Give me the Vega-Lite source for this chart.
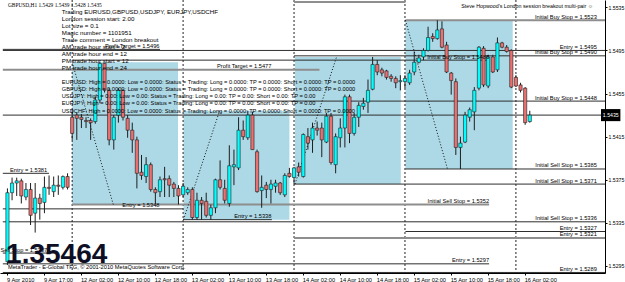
{
  "$schema": "https://vega.github.io/schema/vega-lite/v6.json",
  "width": 605,
  "height": 273,
  "autosize": "none",
  "padding": {"left": 0, "top": 0, "right": 20, "bottom": 9},
  "background": "#ffffff",
  "config": {
    "view": {"stroke": null},
    "font": "Liberation Sans",
    "text": {"font": "Liberation Sans", "fontSize": 5.7, "color": "#000000"},
    "axis": {"grid": false, "domainColor": "#000000", "tickColor": "#000000", "labelColor": "#000000", "labelFont": "Liberation Sans", "title": null}
  },
  "datasets": {
    "candles": [
      {"i":0,"o":1.5299,"h":1.5367,"l":1.5296,"c":1.5363},
      {"i":1,"o":1.5363,"h":1.5377,"l":1.5356,"c":1.5372},
      {"i":2,"o":1.5372,"h":1.5377,"l":1.5360,"c":1.5374},
      {"i":3,"o":1.5374,"h":1.5376,"l":1.5353,"c":1.5360},
      {"i":4,"o":1.5359,"h":1.5372,"l":1.5356,"c":1.5366},
      {"i":5,"o":1.5366,"h":1.5372,"l":1.5333,"c":1.5342},
      {"i":6,"o":1.5344,"h":1.5372,"l":1.5326,"c":1.5358},
      {"i":7,"o":1.5358,"h":1.5362,"l":1.5338,"c":1.5353},
      {"i":8,"o":1.5354,"h":1.5378,"l":1.5344,"c":1.5368},
      {"i":9,"o":1.5368,"h":1.5379,"l":1.5361,"c":1.5367},
      {"i":10,"o":1.5364,"h":1.5378,"l":1.5359,"c":1.5370},
      {"i":11,"o":1.5370,"h":1.5379,"l":1.5361,"c":1.5369},
      {"i":12,"o":1.5368,"h":1.5379,"l":1.5366,"c":1.5378},
      {"i":13,"o":1.5378,"h":1.5381,"l":1.5366,"c":1.5368},
      {"i":14,"o":1.5433,"h":1.5440,"l":1.5412,"c":1.5418},
      {"i":15,"o":1.5435,"h":1.5437,"l":1.5412,"c":1.5432},
      {"i":16,"o":1.5433,"h":1.5436,"l":1.5423,"c":1.5431},
      {"i":17,"o":1.5430,"h":1.5433,"l":1.5423,"c":1.5429},
      {"i":18,"o":1.5430,"h":1.5432,"l":1.5412,"c":1.5428},
      {"i":19,"o":1.5429,"h":1.5452,"l":1.5427,"c":1.5449},
      {"i":20,"o":1.5449,"h":1.5484,"l":1.5446,"c":1.5483},
      {"i":21,"o":1.5483,"h":1.5483,"l":1.5456,"c":1.5458},
      {"i":22,"o":1.5458,"h":1.5460,"l":1.5407,"c":1.5412},
      {"i":23,"o":1.5412,"h":1.5435,"l":1.5403,"c":1.5433},
      {"i":24,"o":1.5435,"h":1.5460,"l":1.5428,"c":1.5458},
      {"i":25,"o":1.5458,"h":1.5459,"l":1.5430,"c":1.5433},
      {"i":26,"o":1.5432,"h":1.5435,"l":1.5414,"c":1.5421},
      {"i":27,"o":1.5421,"h":1.5428,"l":1.5400,"c":1.5412},
      {"i":28,"o":1.5412,"h":1.5415,"l":1.5367,"c":1.5381},
      {"i":29,"o":1.5382,"h":1.5398,"l":1.5375,"c":1.5379},
      {"i":30,"o":1.5378,"h":1.5396,"l":1.5372,"c":1.5389},
      {"i":31,"o":1.5389,"h":1.5391,"l":1.5364,"c":1.5366},
      {"i":32,"o":1.5366,"h":1.5368,"l":1.5353,"c":1.5363},
      {"i":33,"o":1.5364,"h":1.5378,"l":1.5359,"c":1.5375},
      {"i":34,"o":1.5376,"h":1.5387,"l":1.5359,"c":1.5375},
      {"i":35,"o":1.5376,"h":1.5379,"l":1.5359,"c":1.5370},
      {"i":36,"o":1.5371,"h":1.5373,"l":1.5359,"c":1.5367},
      {"i":37,"o":1.5367,"h":1.5370,"l":1.5352,"c":1.5360},
      {"i":38,"o":1.5361,"h":1.5372,"l":1.5359,"c":1.5369},
      {"i":39,"o":1.5363,"h":1.5368,"l":1.5361,"c":1.5366},
      {"i":40,"o":1.5366,"h":1.5368,"l":1.5338,"c":1.5340},
      {"i":41,"o":1.5340,"h":1.5363,"l":1.5338,"c":1.5356},
      {"i":42,"o":1.5356,"h":1.5359,"l":1.5338,"c":1.5353},
      {"i":43,"o":1.5355,"h":1.5363,"l":1.5340,"c":1.5342},
      {"i":44,"o":1.5342,"h":1.5352,"l":1.5338,"c":1.5349},
      {"i":45,"o":1.5349,"h":1.5376,"l":1.5344,"c":1.5375},
      {"i":46,"o":1.5375,"h":1.5393,"l":1.5366,"c":1.5368},
      {"i":47,"o":1.5367,"h":1.5375,"l":1.5353,"c":1.5356},
      {"i":48,"o":1.5353,"h":1.5407,"l":1.5350,"c":1.5388},
      {"i":49,"o":1.5387,"h":1.5403,"l":1.5370,"c":1.5389},
      {"i":50,"o":1.5386,"h":1.5433,"l":1.5384,"c":1.5421},
      {"i":51,"o":1.5421,"h":1.5430,"l":1.5412,"c":1.5415},
      {"i":52,"o":1.5414,"h":1.5439,"l":1.5412,"c":1.5435},
      {"i":53,"o":1.5435,"h":1.5438,"l":1.5403,"c":1.5403},
      {"i":54,"o":1.5401,"h":1.5403,"l":1.5363,"c":1.5364},
      {"i":55,"o":1.5365,"h":1.5379,"l":1.5349,"c":1.5368},
      {"i":56,"o":1.5370,"h":1.5373,"l":1.5358,"c":1.5366},
      {"i":57,"o":1.5366,"h":1.5375,"l":1.5353,"c":1.5371},
      {"i":58,"o":1.5369,"h":1.5375,"l":1.5363,"c":1.5372},
      {"i":59,"o":1.5372,"h":1.5373,"l":1.5361,"c":1.5363},
      {"i":60,"o":1.5361,"h":1.5381,"l":1.5359,"c":1.5379},
      {"i":61,"o":1.5381,"h":1.5386,"l":1.5377,"c":1.5378},
      {"i":62,"o":1.5377,"h":1.5387,"l":1.5371,"c":1.5386},
      {"i":63,"o":1.5387,"h":1.5391,"l":1.5378,"c":1.5382},
      {"i":64,"o":1.5378,"h":1.5418,"l":1.5377,"c":1.5417},
      {"i":65,"o":1.5415,"h":1.5423,"l":1.5403,"c":1.5409},
      {"i":66,"o":1.5412,"h":1.5428,"l":1.5400,"c":1.5423},
      {"i":67,"o":1.5423,"h":1.5429,"l":1.5416,"c":1.5421},
      {"i":68,"o":1.5423,"h":1.5428,"l":1.5396,"c":1.5412},
      {"i":69,"o":1.5410,"h":1.5437,"l":1.5409,"c":1.5434},
      {"i":70,"o":1.5434,"h":1.5437,"l":1.5389,"c":1.5391},
      {"i":71,"o":1.5389,"h":1.5418,"l":1.5381,"c":1.5415},
      {"i":72,"o":1.5414,"h":1.5432,"l":1.5405,"c":1.5423},
      {"i":73,"o":1.5423,"h":1.5454,"l":1.5405,"c":1.5452},
      {"i":74,"o":1.5452,"h":1.5454,"l":1.5409,"c":1.5418},
      {"i":75,"o":1.5418,"h":1.5437,"l":1.5416,"c":1.5433},
      {"i":76,"o":1.5433,"h":1.5447,"l":1.5424,"c":1.5444},
      {"i":77,"o":1.5443,"h":1.5451,"l":1.5440,"c":1.5446},
      {"i":78,"o":1.5447,"h":1.5468,"l":1.5437,"c":1.5458},
      {"i":79,"o":1.5459,"h":1.5489,"l":1.5458,"c":1.5482},
      {"i":80,"o":1.5482,"h":1.5486,"l":1.5472,"c":1.5475},
      {"i":81,"o":1.5477,"h":1.5479,"l":1.5471,"c":1.5474},
      {"i":82,"o":1.5476,"h":1.5477,"l":1.5468,"c":1.5470},
      {"i":83,"o":1.5471,"h":1.5473,"l":1.5466,"c":1.5469},
      {"i":84,"o":1.5469,"h":1.5471,"l":1.5460,"c":1.5465},
      {"i":85,"o":1.5466,"h":1.5472,"l":1.5458,"c":1.5467},
      {"i":86,"o":1.5466,"h":1.5472,"l":1.5460,"c":1.5469},
      {"i":87,"o":1.5465,"h":1.5477,"l":1.5463,"c":1.5474},
      {"i":88,"o":1.5475,"h":1.5494,"l":1.5472,"c":1.5484},
      {"i":89,"o":1.5484,"h":1.5491,"l":1.5483,"c":1.5488},
      {"i":90,"o":1.5489,"h":1.5497,"l":1.5486,"c":1.5495},
      {"i":91,"o":1.5495,"h":1.5517,"l":1.5494,"c":1.5507},
      {"i":92,"o":1.5508,"h":1.5511,"l":1.5503,"c":1.5506},
      {"i":93,"o":1.5506,"h":1.5523,"l":1.5505,"c":1.5514},
      {"i":94,"o":1.5515,"h":1.5522,"l":1.5497,"c":1.5498},
      {"i":95,"o":1.5500,"h":1.5503,"l":1.5474,"c":1.5475},
      {"i":96,"o":1.5474,"h":1.5475,"l":1.5454,"c":1.5467},
      {"i":97,"o":1.5466,"h":1.5469,"l":1.5398,"c":1.5405},
      {"i":98,"o":1.5405,"h":1.5415,"l":1.5385,"c":1.5409},
      {"i":99,"o":1.5410,"h":1.5438,"l":1.5409,"c":1.5435},
      {"i":100,"o":1.5433,"h":1.5442,"l":1.5429,"c":1.5440},
      {"i":101,"o":1.5438,"h":1.5461,"l":1.5421,"c":1.5458},
      {"i":102,"o":1.5460,"h":1.5499,"l":1.5458,"c":1.5498},
      {"i":103,"o":1.5497,"h":1.5499,"l":1.5461,"c":1.5463},
      {"i":104,"o":1.5462,"h":1.5491,"l":1.5460,"c":1.5489},
      {"i":105,"o":1.5489,"h":1.5491,"l":1.5474,"c":1.5475},
      {"i":106,"o":1.5477,"h":1.5507,"l":1.5475,"c":1.5502},
      {"i":107,"o":1.5502,"h":1.5503,"l":1.5497,"c":1.5498},
      {"i":108,"o":1.5498,"h":1.5500,"l":1.5493,"c":1.5494},
      {"i":109,"o":1.5495,"h":1.5496,"l":1.5460,"c":1.5461},
      {"i":110,"o":1.5470,"h":1.5472,"l":1.5461,"c":1.5462},
      {"i":111,"o":1.5463,"h":1.5465,"l":1.5456,"c":1.5458},
      {"i":112,"o":1.5460,"h":1.5461,"l":1.5426,"c":1.5428},
      {"i":113,"o":1.5429,"h":1.5439,"l":1.5428,"c":1.5435}
    ],
    "boxes": [
      {"x0":14,"x1":36.9,"lo":1.5352,"hi":1.5484},
      {"x0":38.1,"x1":61,"lo":1.5338,"hi":1.5439},
      {"x0":62.2,"x1":85.1,"lo":1.5371,"hi":1.5489},
      {"x0":86.1,"x1":109.3,"lo":1.5385,"hi":1.5523}
    ],
    "days": [{"i":14},{"i":38},{"i":62},{"i":86},{"i":110}],
    "diags": [
      {"x0":14,"p0":1.5484,"x1":22.9,"p1":1.5352},
      {"x0":38.1,"p0":1.5338,"x1":45.9,"p1":1.5439},
      {"x0":62.2,"p0":1.5371,"x1":71.2,"p1":1.5489},
      {"x0":86.1,"p0":1.5523,"x1":95.2,"p1":1.5385}
    ],
    "levels": [
      {"p":1.5540,"x0":62,"x1":86.1,"lx":86.1,"label":"","k":"box"},
      {"p":1.5523,"x0":86.1,"x1":130,"lx":127.5,"label":"Initial Buy Stop = 1.5523","k":"box"},
      {"p":1.5495,"x0":-1,"x1":130,"lx":127.5,"label":"Entry = 1.5495","k":"order"},
      {"p":1.5490,"x0":62,"x1":130,"lx":127.5,"label":"Initial Buy Stop = 1.5490","k":"order"},
      {"p":1.5496,"x0":-1,"x1":33,"lx":32.9,"label":"Profit Target = 1.5496","k":"order"},
      {"p":1.5486,"x0":14,"x1":104.2,"lx":104.2,"label":"Initial Buy Stop = 1.5486","k":"order"},
      {"p":1.5477,"x0":-1,"x1":67.5,"lx":57.1,"label":"Profit Target = 1.5477","k":"box"},
      {"p":1.5448,"x0":38,"x1":130,"lx":127.5,"label":"Initial Buy Stop = 1.5448","k":"order"},
      {"p":1.5435,"x0":-1,"x1":130,"lx":0,"label":"","k":"order"},
      {"p":1.5385,"x0":86.1,"x1":130,"lx":127.5,"label":"Initial Sell Stop = 1.5385","k":"order"},
      {"p":1.5381,"x0":-1,"x1":9,"lx":8.6,"label":"Entry = 1.5381","k":"order"},
      {"p":1.5371,"x0":62,"x1":130,"lx":127.5,"label":"Initial Sell Stop = 1.5371","k":"order"},
      {"p":1.5352,"x0":14,"x1":104.2,"lx":104.2,"label":"Initial Sell Stop = 1.5352","k":"box"},
      {"p":1.5348,"x0":-1,"x1":38,"lx":32.9,"label":"Entry = 1.5348","k":"order"},
      {"p":1.5338,"x0":38,"x1":57.2,"lx":57.1,"label":"Entry = 1.5338","k":"order"},
      {"p":1.5336,"x0":-1,"x1":130,"lx":127.5,"label":"Initial Sell Stop = 1.5336","k":"order"},
      {"p":1.5327,"x0":86.1,"x1":130,"lx":127.5,"label":"Entry = 1.5327","k":"order"},
      {"p":1.5321,"x0":62,"x1":130,"lx":127.5,"label":"Entry = 1.5321","k":"box"},
      {"p":1.5307,"x0":-1,"x1":10.5,"lx":8.6,"label":"Initial Sell Stop = 1.5307","k":"order"},
      {"p":1.5297,"x0":-1,"x1":104.2,"lx":104.2,"label":"Entry = 1.5297","k":"order"},
      {"p":1.5289,"x0":-1,"x1":130,"lx":127.5,"label":"Entry = 1.5289","k":"order"}
    ],
    "header": [
      {"x":0.1,"p":1.55372,"t":"GBPUSD,H1  1.5429 1.5439 1.5428 1.5435"}
    ],
    "copyright": [
      {"x":0.1,"p":1.52941,"t":"MetaTrader - E-Global TFG, © 2001-2010 MetaQuotes Software Corp."}
    ],
    "comment": [
      {"x":11.75,"p":1.55304,"t":"Trading EURUSD,GBPUSD,USDJPY, EURJPY,USDCHF"},
      {"x":11.75,"p":1.55239,"t":"London session start: 2.00"},
      {"x":11.75,"p":1.55177,"t":"Lot size = 0.1"},
      {"x":11.75,"p":1.55112,"t":"Magic number = 1101951"},
      {"x":11.75,"p":1.55047,"t":"Trade comment = London breakout"},
      {"x":11.75,"p":1.54982,"t":"AM trade hour start = 2"},
      {"x":11.75,"p":1.54917,"t":"AM trade hour end = 12"},
      {"x":11.75,"p":1.54852,"t":"PM trade hour start = 12"},
      {"x":11.75,"p":1.54787,"t":"PM trade hour end = 24"}
    ],
    "pairs": [
      {"x":11.75,"p":1.54660,"t":"EURUSD: High = 0.0000: Low = 0.0000: Status = Trading: Long = 0.0000: TP = 0.0000: Short = 0.0000: TP = 0.0000"},
      {"x":11.75,"p":1.54592,"t":"GBPUSD: High = 0.0000: Low = 0.0000: Status = Trading: Long = 0.0000: TP = 0.0000: Short = 0.0000: TP = 0.0000"},
      {"x":11.75,"p":1.54523,"t":"USDJPY: High = 0.00: Low = 0.00: Status = Trading: Long = 0.00: TP = 0.00: Short = 0.00: TP = 0.00"},
      {"x":11.75,"p":1.54458,"t":"EURJPY: High = 0.00: Low = 0.00: Status = Trading: Long = 0.00: TP = 0.00: Short = 0.00: TP = 0.00"},
      {"x":11.75,"p":1.54391,"t":"USDCHF: High = 0.0000: Low = 0.0000: Status = Trading: Long = 0.0000: TP = 0.0000: Short = 0.0000: TP = 0.0000"}
    ],
    "title": [{"x":126.7,"p":1.55362,"t":"Steve Hopwood's London session breakout multi-pair ☺"}],
    "big": [{"x":-0.3,"p":1.52978,"t":"1.35464"}],
    "bid": [{"x0":128.4,"x1":132.6,"xt":128.8,"p":1.5435,"lo":1.54294,"hi":1.54406,"t":"1.5435"}]
  },
  "layer": [
    {
      "data": {"name": "boxes"},
      "mark": {"type": "rect", "color": "#ADD8E6"},
      "encoding": {
        "x": {"field": "x0", "type": "quantitative",
          "scale": {"domain": [-0.53, 128.19], "nice": false, "zero": false},
          "axis": {"orient": "bottom", "title": null, "values": [0,8,16,24,32,40,48,56,64,72,80,88,96,104,112],
            "labelExpr": "['9 Apr 2010','9 Apr 17:00','12 Apr 02:00','12 Apr 10:00','12 Apr 18:00','13 Apr 02:00','13 Apr 10:00','13 Apr 18:00','14 Apr 02:00','14 Apr 10:00','14 Apr 18:00','15 Apr 02:00','15 Apr 10:00','15 Apr 18:00','16 Apr 02:00'][round(datum.value/8)]",
            "labelAlign": "left", "labelBaseline": "top", "labelFontSize": 5.7, "tickSize": 2, "labelPadding": 1, "labelOffset": -1,
            "labelOverlap": false, "labelBound": false, "labelFlush": false, "grid": false}},
        "x2": {"field": "x1"},
        "y": {"field": "lo", "type": "quantitative",
          "scale": {"domain": [1.52885, 1.55418], "nice": false, "zero": false},
          "axis": {"orient": "right", "title": null, "values": [1.5295,1.5315,1.5335,1.5355,1.5375,1.5395,1.5415,1.5435,1.5455,1.5475,1.5495,1.5515,1.5535],
            "labelExpr": "abs(datum.value-1.5435)<0.00001 ? '' : format(datum.value, '.4f')",
            "labelFontSize": 5.2, "tickSize": 2, "labelPadding": 1, "labelOverlap": false, "labelBound": false, "labelFlush": false, "grid": false}},
        "y2": {"field": "hi"}
      }
    },
    {
      "data": {"name": "days"},
      "mark": {"type": "rule", "color": "#222222", "strokeWidth": 1, "strokeDash": [2, 2]},
      "encoding": {"x": {"field": "i", "type": "quantitative"}}
    },
    {
      "data": {"name": "levels"},
      "mark": {"type": "rule", "clip": true},
      "encoding": {
        "x": {"field": "x0", "type": "quantitative"},
        "x2": {"field": "x1"},
        "y": {"field": "p", "type": "quantitative"},
        "color": {"field": "k", "type": "nominal", "scale": {"domain": ["order", "box"], "range": ["#2e2e2e", "#8e8e8e"]}, "legend": null},
        "strokeWidth": {"field": "k", "type": "nominal", "scale": {"domain": ["order", "box"], "range": [1, 2]}, "legend": null}
      }
    },
    {
      "data": {"name": "diags"},
      "mark": {"type": "rule", "color": "#111111", "strokeWidth": 1, "strokeDash": [1, 2]},
      "encoding": {
        "x": {"field": "x0", "type": "quantitative"},
        "x2": {"field": "x1"},
        "y": {"field": "p0", "type": "quantitative"},
        "y2": {"field": "p1"}
      }
    },
    {
      "data": {"name": "candles"},
      "mark": {"type": "rule", "color": "#1e1e1e", "strokeWidth": 1},
      "encoding": {
        "x": {"field": "i", "type": "quantitative"},
        "y": {"field": "l", "type": "quantitative"},
        "y2": {"field": "h"}
      }
    },
    {
      "data": {"name": "candles"},
      "mark": {"type": "bar", "width": 3.2, "stroke": "#1e1e1e", "strokeWidth": 0.6},
      "encoding": {
        "x": {"field": "i", "type": "quantitative"},
        "y": {"field": "o", "type": "quantitative"},
        "y2": {"field": "c"},
        "fill": {"condition": {"test": "datum.c >= datum.o", "value": "#00FFFF"}, "value": "#EC7070"}
      }
    },
    {
      "data": {"name": "levels"},
      "transform": [{"filter": "datum.label != ''"}],
      "mark": {"type": "text", "align": "right", "baseline": "alphabetic", "dy": -1.5, "fontSize": 5.7, "color": "#000000"},
      "encoding": {
        "x": {"field": "lx", "type": "quantitative"},
        "y": {"field": "p", "type": "quantitative"},
        "text": {"field": "label"}
      }
    },
    {
      "data": {"name": "header"},
      "mark": {"type": "text", "align": "left", "baseline": "middle", "fontSize": 5.4, "font": "Liberation Sans Narrow", "color": "#000000"},
      "encoding": {
        "x": {"field": "x", "type": "quantitative"},
        "y": {"field": "p", "type": "quantitative"},
        "text": {"field": "t"}
      }
    },
    {
      "data": {"name": "copyright"},
      "mark": {"type": "text", "align": "left", "baseline": "middle", "fontSize": 5.7, "color": "#000000"},
      "encoding": {
        "x": {"field": "x", "type": "quantitative"},
        "y": {"field": "p", "type": "quantitative"},
        "text": {"field": "t"}
      }
    },
    {
      "data": {"name": "comment"},
      "mark": {"type": "text", "align": "left", "baseline": "middle", "fontSize": 6.2, "color": "#000000"},
      "encoding": {
        "x": {"field": "x", "type": "quantitative"},
        "y": {"field": "p", "type": "quantitative"},
        "text": {"field": "t"}
      }
    },
    {
      "data": {"name": "pairs"},
      "mark": {"type": "text", "align": "left", "baseline": "middle", "fontSize": 5.7, "color": "#000000"},
      "encoding": {
        "x": {"field": "x", "type": "quantitative"},
        "y": {"field": "p", "type": "quantitative"},
        "text": {"field": "t"}
      }
    },
    {
      "data": {"name": "title"},
      "mark": {"type": "text", "align": "right", "baseline": "middle", "fontSize": 5.3, "color": "#000000"},
      "encoding": {
        "x": {"field": "x", "type": "quantitative"},
        "y": {"field": "p", "type": "quantitative"},
        "text": {"field": "t"}
      }
    },
    {
      "data": {"name": "big"},
      "mark": {"type": "text", "align": "left", "baseline": "alphabetic", "fontSize": 28, "fontWeight": "bold", "color": "#0e0e24"},
      "encoding": {
        "x": {"field": "x", "type": "quantitative"},
        "y": {"field": "p", "type": "quantitative"},
        "text": {"field": "t"}
      }
    },
    {
      "data": {"name": "bid"},
      "mark": {"type": "rect", "color": "#000000"},
      "encoding": {
        "x": {"field": "x0", "type": "quantitative"},
        "x2": {"field": "x1"},
        "y": {"field": "lo", "type": "quantitative"},
        "y2": {"field": "hi"}
      }
    },
    {
      "data": {"name": "bid"},
      "mark": {"type": "text", "align": "left", "baseline": "middle", "fontSize": 5.2, "color": "#ffffff"},
      "encoding": {
        "x": {"field": "xt", "type": "quantitative"},
        "y": {"field": "p", "type": "quantitative"},
        "text": {"field": "t"}
      }
    }
  ]
}
